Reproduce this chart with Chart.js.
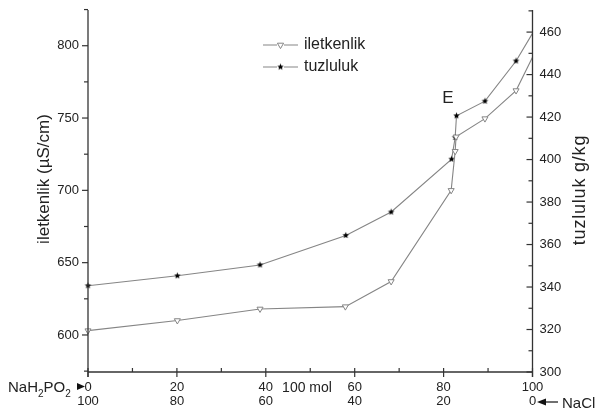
<!DOCTYPE html>
<html><head><meta charset="utf-8">
<script src="https://cdn.jsdelivr.net/npm/chart.js@4"></script>
<style>html,body{margin:0;padding:0;background:#fff}</style>
</head><body>
<canvas id="c" width="598" height="412" style="width:598px;height:412px;display:block"></canvas>
<script>
// ---- data (x = mol NaH2PO2 out of 100) ----
const xIletkenlik = [0, 20.1, 38.7, 57.9, 68.2, 81.7, 82.6, 82.8, 89.3, 96.3, 100];
const iletkenlik  = [603, 610, 618, 619.6, 637, 700, 727, 737, 749.6, 769, 792];
const xTuzluluk   = [0, 20.1, 38.7, 58.0, 68.2, 81.8, 82.6, 82.9, 89.3, 96.3, 100];
const tuzluluk    = [340.6, 345.3, 350.4, 364.3, 375.3, 400.2, 410.4, 420.6, 427.5, 446.4, 459.4];
const xTicks      = [0, 20, 40, 60, 80, 100];
const xTicksNaCl  = [100, 80, 60, 40, 20, 0];
const leftTicks   = [600, 650, 700, 750, 800];
const rightTicks  = [300, 320, 340, 360, 380, 400, 420, 440, 460];

const FONT = "'Liberation Sans', Arial, sans-serif";
const LINE = '#858585';
const AX = '#333';
const TXT = '#222';

// star marker
function makeStar(r){
  const c=document.createElement('canvas'); const s=Math.ceil(r*2+2); c.width=s;c.height=s;
  const g=c.getContext('2d'); g.fillStyle='#000'; g.beginPath();
  for(let i=0;i<10;i++){const rr=i%2?r*0.45:r; const a=-Math.PI/2+i*Math.PI/5;
    g.lineTo(s/2+rr*Math.cos(a), s/2+rr*Math.sin(a));}
  g.closePath(); g.fill(); return c;
}
const starImg = makeStar(3.4);

function drawTri(ctx,x,y,r){
  ctx.beginPath(); ctx.moveTo(x-r*0.87,y-r*0.5); ctx.lineTo(x+r*0.87,y-r*0.5); ctx.lineTo(x,y+r); ctx.closePath();
  ctx.fillStyle='#fff'; ctx.fill(); ctx.strokeStyle=LINE; ctx.lineWidth=1; ctx.stroke();
}

const deco = {
  id:'deco',
  afterDraw(chart){
    const ctx=chart.ctx, a=chart.chartArea, sx=chart.scales.x, yl=chart.scales.y, yr=chart.scales.y2;
    ctx.save();
    ctx.strokeStyle=AX; ctx.lineWidth=1.3;
    const L=(x1,y1,x2,y2)=>{ctx.beginPath();ctx.moveTo(x1,y1);ctx.lineTo(x2,y2);ctx.stroke();};
    L(a.left,a.top,a.left,a.bottom+5);
    L(a.right,a.top,a.right,a.bottom+5);
    L(a.left,a.bottom,a.right,a.bottom);
    ctx.lineWidth=1.2;
    // left ticks (outward)
    leftTicks.forEach(v=>{const y=yl.getPixelForValue(v); L(a.left-6,y,a.left,y);});
    for(let v=575; v<=825; v+=50){const y=yl.getPixelForValue(v); L(a.left-4,y,a.left,y);}
    // right ticks (inward)
    rightTicks.forEach(v=>{const y=yr.getPixelForValue(v); L(a.right-6,y,a.right,y);});
    for(let v=310; v<=470; v+=20){const y=yr.getPixelForValue(v); L(a.right-4,y,a.right,y);}
    // bottom ticks
    xTicks.forEach(v=>{const x=sx.getPixelForValue(v); L(x,a.bottom-4,x,a.bottom+5);});
    for(let v=10; v<100; v+=20){const x=sx.getPixelForValue(v); L(x,a.bottom-4,x,a.bottom);}

    // axis titles
    ctx.fillStyle=TXT; ctx.textAlign='center'; ctx.textBaseline='middle';
    ctx.font='17px '+FONT;
    ctx.save(); ctx.translate(44,179); ctx.rotate(-Math.PI/2); ctx.fillText('iletkenlik (µS/cm)',0,0); ctx.restore();
    ctx.save(); ctx.translate(580,190); ctx.rotate(-Math.PI/2);
    ctx.font='18px '+FONT;
    try{ ctx.letterSpacing='0.8px'; }catch(e){}
    ctx.fillText('tuzluluk g/kg',0,0);
    try{ ctx.letterSpacing='0px'; }catch(e){}
    ctx.restore();

    // E label
    ctx.font='17px '+FONT; ctx.fillText('E',448,98);

    // 100 mol
    ctx.font='14px '+FONT; ctx.fillText('100 mol',307,388);

    // NaH2PO2 with subscripts
    ctx.textAlign='left'; ctx.textBaseline='alphabetic';
    let x=8; const base=392;
    const part=(t,sz,dy)=>{ctx.font=sz+'px '+FONT; ctx.fillText(t,x,base+dy); x+=ctx.measureText(t).width;};
    part('NaH',15,0); part('2',10,5); part('PO',15,0); part('2',10,5);
    // arrow right
    ctx.fillStyle='#111';
    ctx.beginPath(); ctx.moveTo(77,383); ctx.lineTo(85,386.5); ctx.lineTo(77,390); ctx.closePath(); ctx.fill();
    // arrow left + NaCl
    ctx.strokeStyle='#111'; ctx.lineWidth=1.2; L(541,402,558,402);
    ctx.beginPath(); ctx.moveTo(537,402); ctx.lineTo(546,398.5); ctx.lineTo(546,405.5); ctx.closePath(); ctx.fill();
    ctx.fillStyle=TXT; ctx.font='15px '+FONT; ctx.fillText('NaCl',562,408);

    // legend
    ctx.strokeStyle=LINE; ctx.lineWidth=1;
    L(263,45,277,45); L(284,45,298,45); drawTri(ctx,280.5,45,3.6);
    ctx.strokeStyle=LINE; L(263,67,277,67); L(284,67,298,67);
    ctx.drawImage(starImg,280.5-starImg.width/2,67-starImg.height/2);
    ctx.fillStyle=TXT; ctx.font='16px '+FONT; ctx.textBaseline='middle';
    ctx.fillText('iletkenlik',304,45); ctx.fillText('tuzluluk',304,67);
    ctx.restore();
  }
};

const hideEnd = c => (c.raw && c.raw.x >= 100) ? 0 : 3.5;

new Chart(document.getElementById('c'), {
  type:'line',
  data:{ datasets:[
    { label:'iletkenlik', yAxisID:'y',
      data: xIletkenlik.map((x,i)=>({x, y: iletkenlik[i]})),
      borderColor:LINE, borderWidth:1.1, pointStyle:'triangle', rotation:180,
      pointRadius:hideEnd, pointBackgroundColor:'#fff', pointBorderColor:LINE, pointBorderWidth:1, tension:0 },
    { label:'tuzluluk', yAxisID:'y2',
      data: xTuzluluk.map((x,i)=>({x, y: tuzluluk[i]})),
      borderColor:LINE, borderWidth:1.1, pointStyle:starImg, pointRadius:hideEnd, tension:0 }
  ]},
  options:{
    responsive:false, animation:false, clip:false,
    layout:{ padding:{ top:10, left:0, right:0, bottom:0 } },
    plugins:{ legend:{display:false}, tooltip:{enabled:false} },
    scales:{
      x:{ type:'linear', min:0, max:100, position:'bottom',
        grid:{display:false, drawTicks:false}, border:{display:false},
        afterBuildTicks:s=>{ s.ticks = xTicks.map(v=>({value:v})); },
        afterFit:s=>{ s.height=40; s.paddingLeft=0; s.paddingRight=0; },
        ticks:{ padding:8, color:TXT, font:{family:FONT,size:13,lineHeight:1.08}, maxRotation:0,
          callback:(v)=>{ const i=xTicks.indexOf(v); return [String(v), String(xTicksNaCl[i])]; } } },
      y:{ type:'linear', position:'left', min:574.4, max:824.7,
        grid:{display:false, drawTicks:false}, border:{display:false},
        afterBuildTicks:s=>{ s.ticks = leftTicks.map(v=>({value:v})); },
        afterFit:s=>{ s.width=88; s.paddingTop=0; s.paddingBottom=0; },
        ticks:{ padding:9, color:TXT, font:{family:FONT,size:13} } },
      y2:{ type:'linear', position:'right', min:300, max:470.4,
        grid:{display:false, drawTicks:false}, border:{display:false},
        afterBuildTicks:s=>{ s.ticks = rightTicks.map(v=>({value:v})); },
        afterFit:s=>{ s.width=65.5; s.paddingTop=0; s.paddingBottom=0; },
        ticks:{ padding:7, color:TXT, font:{family:FONT,size:13} } }
    }
  },
  plugins:[deco]
});
</script>
</body></html>
